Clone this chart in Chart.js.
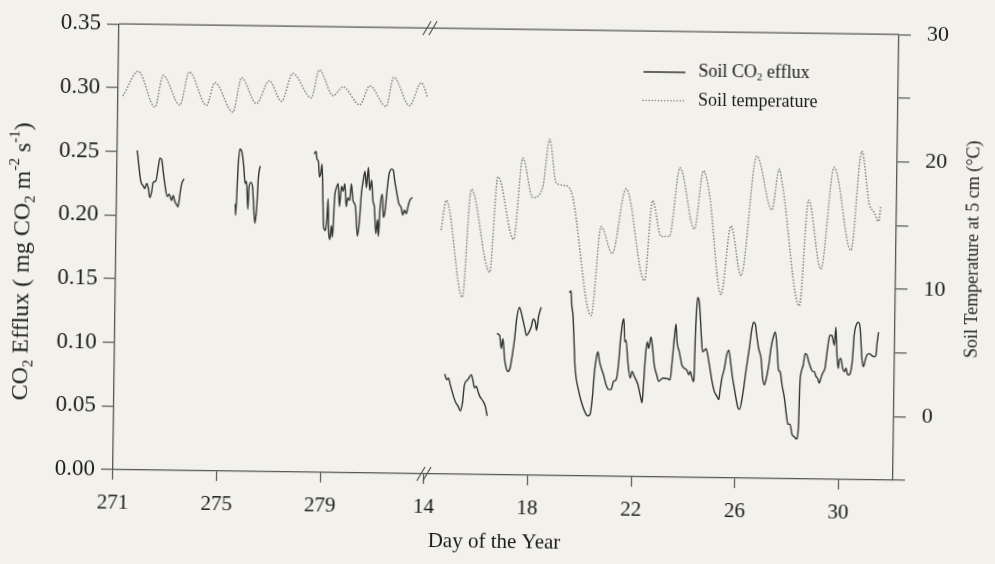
<!DOCTYPE html>
<html>
<head>
<meta charset="utf-8">
<script src="https://cdn.jsdelivr.net/npm/chart.js@4.4.1/dist/chart.umd.min.js"></script>
<style>
  html, body { margin: 0; padding: 0; background: #f2f1ec; overflow: hidden; }
  #wrap { width: 995px; height: 564px; }
  /* the printed figure sits slightly skewed on the page */
  canvas { display: block; transform: rotate(0.78deg); transform-origin: 506px 249px; }
</style>
</head>
<body>
<div id="wrap"><canvas id="c" width="995" height="564"></canvas></div>
<script>
// bottom axis ticks: autumn run (days 271-283) then January (days 14-32)
const tickDays = [271, 275, 279, 14, 18, 22, 26, 30];

// soil temperature at 5 cm (degC)
const tempDaysAutumn = [271.20, 271.77, 272.43, 272.73, 273.39, 273.74, 274.42, 274.73, 275.44, 275.76,
  276.34, 276.83, 277.31, 277.73, 278.46, 278.75, 279.30, 279.68, 280.33, 280.71, 281.35, 281.63,
  282.25, 282.70, 282.96];
const tempAutumn = [24.4, 26.3, 23.5, 26.0, 23.7, 26.3, 23.7, 25.5, 23.2, 25.9,
  23.9, 25.7, 24.1, 26.3, 24.4, 26.6, 24.6, 25.3, 23.9, 25.4, 23.8, 26.1,
  23.9, 25.7, 24.5];
const tempDaysJan = [14.54, 14.72, 15.39, 15.68, 16.43, 16.70, 17.34, 17.65, 18.06, 18.43,
  18.68, 18.95, 19.27, 19.54, 20.37, 20.71, 21.15, 21.65, 22.41, 22.68,
  23.03, 23.35, 23.72, 24.31, 24.63, 24.87, 25.37, 25.72, 26.13, 26.68,
  27.29, 27.55, 27.69, 28.40, 28.70, 29.21, 29.67, 30.36, 30.73, 31.04,
  31.24, 31.41, 31.49];
const tempJan = [14.2, 16.5, 8.9, 17.4, 10.9, 18.4, 13.5, 19.9, 16.8, 17.6,
  21.4, 18.0, 17.8, 17.3, 7.6, 14.6, 12.5, 17.6, 10.4, 16.7,
  13.9, 13.9, 19.3, 14.5, 19.1, 17.3, 9.4, 14.8, 10.9, 20.3,
  16.1, 19.3, 18.0, 8.6, 16.9, 11.5, 19.5, 13.0, 20.8, 16.7,
  16.0, 15.3, 16.5];

// soil CO2 efflux (mg CO2 m-2 s-1), one pair of arrays per measuring run
const effluxDays1 = [271.77, 271.92, 272.02, 272.08, 272.15, 272.21, 272.28, 272.35, 272.40, 272.50,
  272.59, 272.65, 272.72, 272.78, 272.85, 272.95, 273.02, 273.12, 273.18, 273.25,
  273.31, 273.37, 273.44, 273.50, 273.59];
const efflux1 = [0.251, 0.227, 0.223, 0.221, 0.225, 0.222, 0.214, 0.219, 0.226, 0.227,
  0.238, 0.245, 0.244, 0.235, 0.225, 0.215, 0.217, 0.212, 0.216, 0.211,
  0.209, 0.207, 0.217, 0.225, 0.229];

const effluxDays2 = [275.58, 275.60, 275.67, 275.73, 275.82, 275.89, 275.95, 276.00, 276.07, 276.10,
  276.17, 276.24, 276.30, 276.35, 276.41, 276.46, 276.52];
const efflux2 = [0.210, 0.201, 0.239, 0.253, 0.250, 0.239, 0.226, 0.228, 0.206, 0.223,
  0.227, 0.223, 0.205, 0.195, 0.208, 0.231, 0.240];

const effluxDays3 = [278.60, 278.67, 278.71, 278.77, 278.81, 278.86, 278.91, 278.96, 279.00, 279.07,
  279.12, 279.16, 279.20, 279.25, 279.30, 279.35, 279.41, 279.48, 279.54, 279.60,
  279.67, 279.73, 279.80, 279.86, 279.92, 279.99, 280.05, 280.12, 280.22, 280.31,
  280.38, 280.44, 280.50, 280.57, 280.63, 280.70, 280.76, 280.83, 280.89, 280.95,
  281.02, 281.08, 281.12, 281.17, 281.25, 281.30, 281.35, 281.43, 281.50, 281.60,
  281.66, 281.72, 281.79, 281.89, 281.98, 282.05, 282.11, 282.18, 282.24, 282.30, 282.41];
const efflux3 = [0.250, 0.252, 0.246, 0.244, 0.232, 0.234, 0.242, 0.214, 0.193, 0.190,
  0.198, 0.215, 0.188, 0.183, 0.194, 0.185, 0.216, 0.224, 0.227, 0.209,
  0.225, 0.221, 0.227, 0.209, 0.216, 0.214, 0.227, 0.214, 0.209, 0.186,
  0.198, 0.219, 0.229, 0.237, 0.224, 0.240, 0.222, 0.230, 0.214, 0.209,
  0.188, 0.199, 0.186, 0.209, 0.219, 0.201, 0.204, 0.222, 0.235, 0.239,
  0.238, 0.230, 0.222, 0.212, 0.209, 0.203, 0.207, 0.204, 0.209, 0.214, 0.217];

const effluxDays4 = [14.75, 14.84, 14.90, 14.97, 15.08, 15.19, 15.28, 15.37, 15.45, 15.52,
  15.65, 15.78, 15.85, 15.91, 15.98, 16.04, 16.11, 16.24, 16.33, 16.41];
const efflux4 = [0.0786, 0.0742, 0.0755, 0.0704, 0.0627, 0.0563, 0.0537, 0.0499, 0.0563, 0.0705,
  0.0745, 0.0784, 0.0732, 0.0681, 0.0694, 0.0655, 0.0617, 0.0579, 0.0540, 0.0463];

const effluxDays5 = [16.74, 16.85, 16.92, 16.98, 17.05, 17.12, 17.18, 17.27, 17.35, 17.43,
  17.50, 17.60, 17.67, 17.76, 17.82, 17.88, 17.95, 18.06, 18.14, 18.22,
  18.27, 18.35, 18.44];
const efflux5 = [0.1109, 0.1096, 0.0993, 0.1071, 0.0916, 0.0839, 0.0813, 0.0840, 0.0943, 0.1072,
  0.1227, 0.1318, 0.1279, 0.1202, 0.1151, 0.1099, 0.1112, 0.1164, 0.1228, 0.1203,
  0.1139, 0.1255, 0.1321];

const effluxDays6 = [19.52, 19.58, 19.62, 19.67, 19.72, 19.77, 19.93, 20.03, 20.16, 20.29,
  20.38, 20.46, 20.53, 20.59, 20.65, 20.72, 20.79, 20.88, 20.98, 21.09,
  21.18, 21.27, 21.37, 21.45, 21.52, 21.59, 21.64, 21.68, 21.73, 21.81,
  21.91, 21.98, 22.07, 22.21, 22.30, 22.38, 22.42, 22.49, 22.55, 22.61,
  22.69, 22.76, 22.83, 22.93, 23.01, 23.17, 23.36, 23.45, 23.52, 23.59,
  23.65, 23.70, 23.79, 23.90, 24.00, 24.09, 24.17, 24.22, 24.30, 24.35,
  24.38, 24.40, 24.44, 24.47, 24.54, 24.59, 24.64, 24.69, 24.76, 24.82,
  24.89, 24.96, 25.07, 25.16, 25.26, 25.34, 25.38, 25.45, 25.54, 25.62,
  25.70, 25.79, 25.86, 25.93, 26.00, 26.08, 26.14, 26.26, 26.37, 26.49,
  26.58, 26.64, 26.71, 26.77, 26.85, 26.95, 27.02, 27.09, 27.15, 27.25,
  27.33, 27.41, 27.49, 27.56, 27.63, 27.69, 27.77, 27.87, 27.97, 28.02,
  28.10, 28.18, 28.29, 28.36, 28.43, 28.46, 28.51, 28.58, 28.65, 28.72,
  28.79, 28.88, 28.95, 29.01, 29.08, 29.14, 29.21, 29.27, 29.33, 29.42,
  29.51, 29.59, 29.67, 29.77, 29.82, 29.87, 29.93, 29.97, 30.03, 30.10,
  30.17, 30.23, 30.30, 30.36, 30.42, 30.48, 30.53, 30.62, 30.69, 30.76,
  30.84, 30.90, 30.97, 31.03, 31.12, 31.21, 31.31, 31.38, 31.41, 31.47];
const efflux6 = [0.1439, 0.1452, 0.1336, 0.1259, 0.1078, 0.0872, 0.0666, 0.0589, 0.0512, 0.0473,
  0.0486, 0.0616, 0.0822, 0.0926, 0.0977, 0.0900, 0.0849, 0.0797, 0.0720, 0.0682,
  0.0682, 0.0747, 0.0760, 0.0877, 0.1083, 0.1212, 0.1238, 0.1058, 0.1071, 0.0903,
  0.0775, 0.0826, 0.0788, 0.0724, 0.0646, 0.0582, 0.0698, 0.0957, 0.1060, 0.1009,
  0.1099, 0.1010, 0.0880, 0.0803, 0.0752, 0.0777, 0.0773, 0.0765, 0.0907, 0.1088,
  0.1204, 0.1063, 0.0986, 0.0882, 0.0856, 0.0843, 0.0806, 0.0832, 0.0780, 0.0754,
  0.0832, 0.1090, 0.1323, 0.1413, 0.1375, 0.1246, 0.1091, 0.0988, 0.1001, 0.1014,
  0.0963, 0.0885, 0.0757, 0.0680, 0.0642, 0.0615, 0.0680, 0.0784, 0.0861, 0.0965,
  0.1004, 0.0888, 0.0785, 0.0707, 0.0630, 0.0553, 0.0540, 0.0657, 0.0838, 0.1019,
  0.1174, 0.1225, 0.1212, 0.1123, 0.1021, 0.0942, 0.0789, 0.0736, 0.0775, 0.0892,
  0.1027, 0.1111, 0.1150, 0.1028, 0.0854, 0.0841, 0.0738, 0.0635, 0.0481, 0.0429,
  0.0429, 0.0352, 0.0327, 0.0314, 0.0431, 0.0740, 0.0843, 0.0895, 0.0986, 0.0973,
  0.0922, 0.0870, 0.0845, 0.0845, 0.0806, 0.0793, 0.0755, 0.0794, 0.0833, 0.0872,
  0.1027, 0.1130, 0.1130, 0.1053, 0.1195, 0.1002, 0.0873, 0.0938, 0.0951, 0.0874,
  0.0848, 0.0875, 0.0824, 0.0824, 0.0850, 0.0952, 0.1133, 0.1223, 0.1236, 0.1185,
  0.0953, 0.0889, 0.0940, 0.0979, 0.0992, 0.0979, 0.0967, 0.0980, 0.1058, 0.1161];

const SERIF = "'Liberation Serif', 'Times New Roman', serif";
const INK = '#1a1a1a';
const AXIS = '#555555';

// days 271..283 sit on 0..12, the January days continue after the break (14 -> 12)
const toAxis = d => (d >= 200 ? d - 271 : d - 2);

// join separate runs into one series, a null point between runs breaks the line
function joinRuns(runs) {
  const pts = [];
  runs.forEach(([days, vals], i) => {
    if (i > 0) pts.push({ x: (pts[pts.length - 1].x + toAxis(days[0])) / 2, y: null });
    days.forEach((d, j) => pts.push({ x: toAxis(d), y: vals[j] }));
  });
  return pts;
}

const effluxPts = joinRuns([
  [effluxDays1, efflux1], [effluxDays2, efflux2], [effluxDays3, efflux3],
  [effluxDays4, efflux4], [effluxDays5, efflux5], [effluxDays6, efflux6],
]);
const tempPts = joinRuns([[tempDaysAutumn, tempAutumn], [tempDaysJan, tempJan]]);

// text with sub/superscripts: parts are [text, kind], kind 0 normal, 1 sub, 2 sup
function drawRich(ctx, parts, x, y, size, align) {
  const small = Math.round(size * 0.62);
  const fontFor = k => `${k ? small : size}px ${SERIF}`;
  let total = 0;
  parts.forEach(([t, k]) => { ctx.font = fontFor(k); total += ctx.measureText(t).width; });
  let cx = align === 'left' ? x : x - total / 2;
  ctx.textAlign = 'left';
  ctx.textBaseline = 'middle';
  parts.forEach(([t, k]) => {
    ctx.font = fontFor(k);
    const dy = k === 1 ? size * 0.3 : k === 2 ? -size * 0.36 : 0;
    ctx.fillText(t, cx, y + dy);
    cx += ctx.measureText(t).width;
  });
}

const decor = {
  id: 'decor',
  afterDraw(chart) {
    const { ctx, chartArea: a, scales: { x } } = chart;
    ctx.save();
    ctx.strokeStyle = AXIS;
    ctx.lineWidth = 1.2;
    // top frame line
    ctx.beginPath();
    ctx.moveTo(a.left, a.top);
    ctx.lineTo(a.right, a.top);
    ctx.stroke();

    // axis break marks on top and bottom frame
    const bx = x.getPixelForValue(toAxis(14));
    [a.top, a.bottom].forEach(yy => {
      [-3, 3].forEach(off => {
        ctx.beginPath();
        ctx.moveTo(bx + off - 4, yy + 7);
        ctx.lineTo(bx + off + 4, yy - 7);
        ctx.stroke();
      });
    });

    ctx.fillStyle = INK;
    // axis titles
    drawRich(ctx, [['Day of the Year', 0]], 498, 542, 21);

    ctx.save();
    ctx.translate(23, 268);
    ctx.rotate(-Math.PI / 2);
    drawRich(ctx, [['CO', 0], ['2', 1], [' Efflux ( mg CO', 0], ['2', 1], [' m', 0], ['-2', 2],
      [' s', 0], ['-1', 2], [')', 0]], 0, 0, 24);
    ctx.restore();

    ctx.save();
    ctx.translate(973, 243);
    ctx.rotate(-Math.PI / 2);
    drawRich(ctx, [['Soil Temperature at 5 cm (°C)', 0]], 0, 0, 18);
    ctx.restore();

    // legend
    ctx.strokeStyle = '#333333';
    ctx.lineWidth = 1.4;
    ctx.beginPath();
    ctx.moveTo(641, 70);
    ctx.lineTo(683, 70);
    ctx.stroke();
    ctx.strokeStyle = '#888888';
    ctx.lineWidth = 1.6;
    ctx.lineCap = 'round';
    ctx.setLineDash([0.1, 3]);
    ctx.beginPath();
    ctx.moveTo(641, 98.5);
    ctx.lineTo(683, 98.5);
    ctx.stroke();
    ctx.setLineDash([]);
    drawRich(ctx, [['Soil CO', 0], ['2', 1], [' efflux', 0]], 696, 69, 18, 'left');
    drawRich(ctx, [['Soil temperature', 0]], 696, 98, 18, 'left');
    ctx.restore();
  }
};

const axisGrid = { drawOnChartArea: false, drawTicks: true, color: AXIS, lineWidth: 1.2 };

new Chart(document.getElementById('c'), {
  type: 'line',
  data: {
    datasets: [
      {
        label: 'Soil CO2 efflux',
        data: effluxPts,
        yAxisID: 'y',
        borderColor: '#333333',
        borderWidth: 1.4,
        pointRadius: 0,
        cubicInterpolationMode: 'monotone',
        spanGaps: false,
      },
      {
        label: 'Soil temperature',
        data: tempPts,
        yAxisID: 'y1',
        borderColor: '#888888',
        borderWidth: 1.7,
        borderDash: [0.1, 3],
        borderCapStyle: 'round',
        pointRadius: 0,
        cubicInterpolationMode: 'monotone',
        spanGaps: false,
      },
    ],
  },
  options: {
    responsive: false,
    animation: false,
    devicePixelRatio: 1,
    layout: { padding: { top: 20, left: 0, right: 0, bottom: 0 } },
    plugins: { legend: { display: false }, tooltip: { enabled: false } },
    scales: {
      x: {
        type: 'linear',
        min: 0,
        max: 30.1,
        afterBuildTicks: s => { s.ticks = tickDays.map(d => ({ value: toAxis(d) })); },
        afterFit: s => { s.height = 89; },
        ticks: {
          autoSkip: false,
          maxRotation: 0,
          padding: 11,
          color: INK,
          font: { family: SERIF, size: 21 },
          callback: v => String(tickDays.find(d => toAxis(d) === v)),
        },
        grid: { ...axisGrid, tickLength: 10 },
        border: { color: AXIS, width: 1.3 },
      },
      y: {
        position: 'left',
        min: 0,
        max: 0.35,
        afterFit: s => { s.width = 116; },
        ticks: { stepSize: 0.05, padding: 6, color: INK, font: { family: SERIF, size: 23 }, callback: v => v.toFixed(2) },
        grid: { ...axisGrid, tickLength: 12 },
        border: { color: AXIS, width: 1.3 },
      },
      y1: {
        position: 'right',
        min: -5,
        max: 30,
        afterFit: s => { s.width = 99; },
        ticks: { stepSize: 5, padding: 16, color: INK, font: { family: SERIF, size: 22 }, callback: v => (v % 10 === 0 ? String(v) : '') },
        grid: { ...axisGrid, tickLength: 12 },
        border: { color: AXIS, width: 1.3 },
      },
    },
  },
  plugins: [decor],
});
</script>
</body>
</html>
